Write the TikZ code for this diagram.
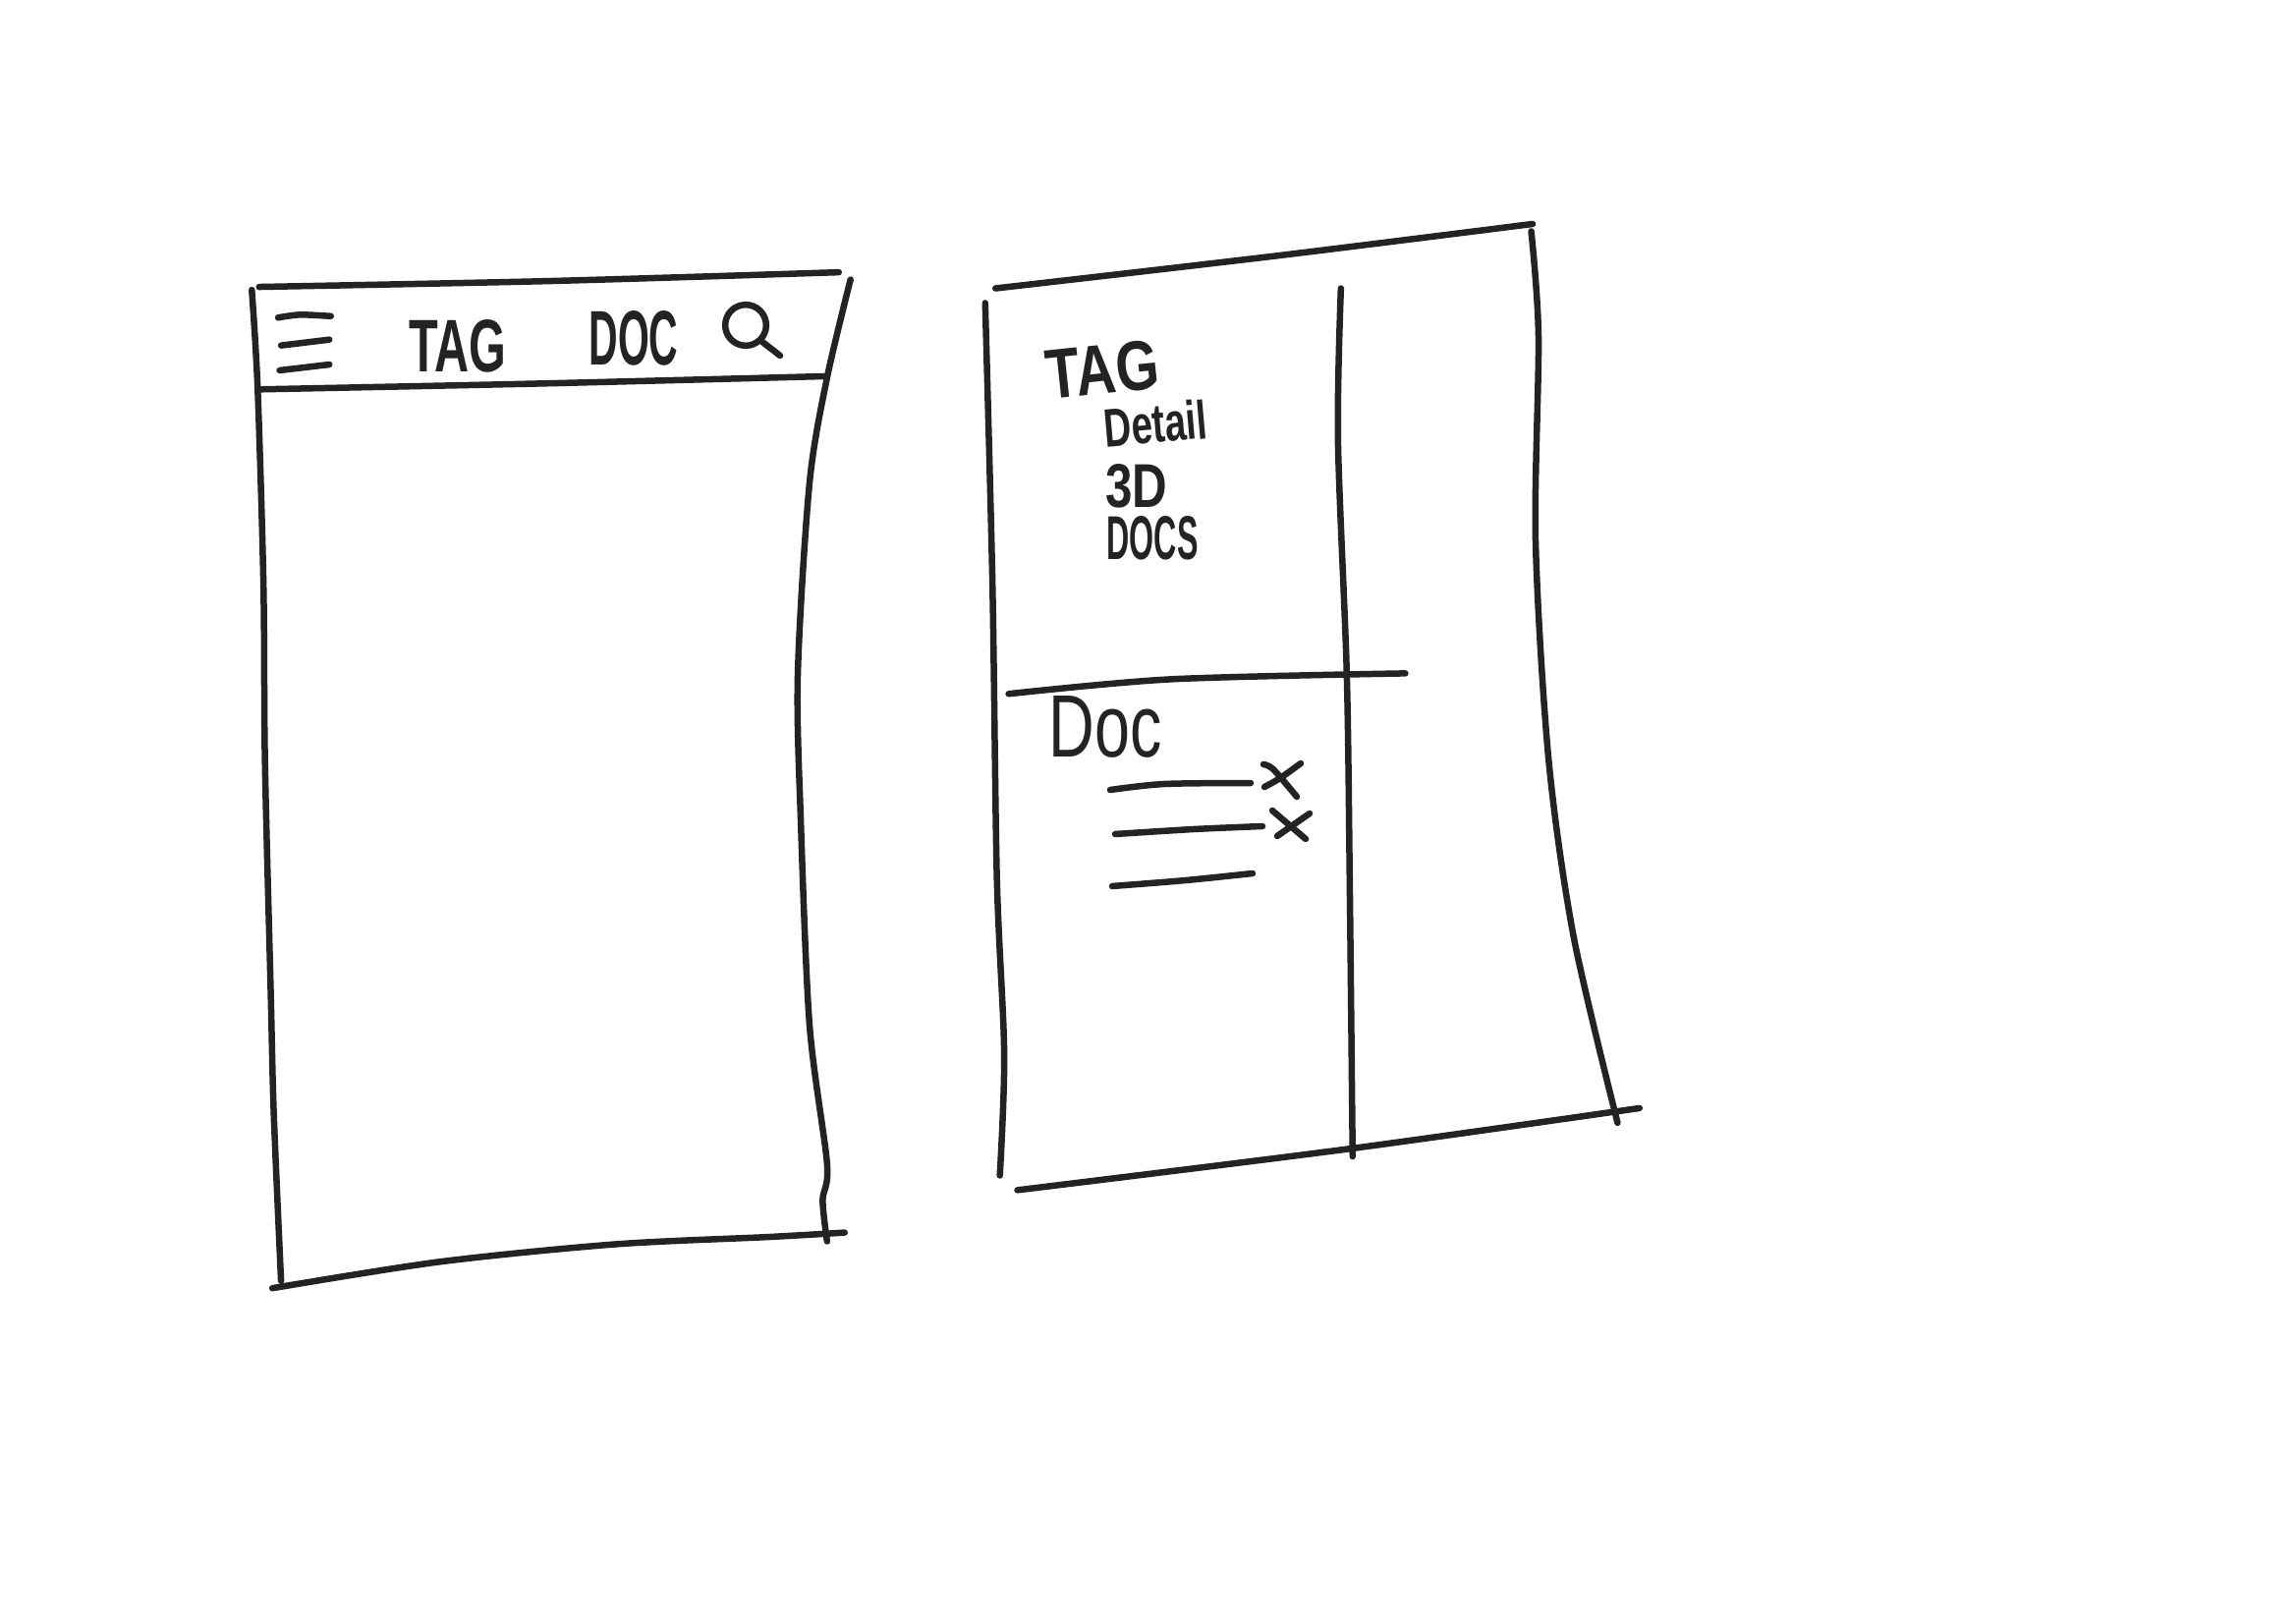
\documentclass[tikz,border=0pt]{standalone}
\usepackage{fontspec}
\usepackage{graphicx}
\setmainfont{Liberation Sans}
\definecolor{inkc}{HTML}{232325}
% #1 width in px, #2 height in px, #3 text
\newcommand{\handtext}[3]{\resizebox{\dimexpr #1pt*3/10\relax}{\dimexpr #2pt*3/10\relax}{\fontsize{20}{20}\selectfont #3}}
\tikzset{
  ink/.style={draw=inkc,line width=1.95pt,line cap=round,line join=round},
  hand/.style={inner sep=0pt,outer sep=0pt,text=inkc},
}
\begin{document}
\begin{tikzpicture}[x=0.3pt,y=-0.3pt]
\useasboundingbox (0,0) rectangle (2337,1653);
\fill[white] (0,0) rectangle (2337,1653);
\begin{scope}[scale=1.49]
% left frame
\draw[ink] plot[smooth,tension=0.5] coordinates {(177,196) (375,192) (573,186)};
\draw[ink] plot[smooth,tension=0.5] coordinates {(172,198) (176,265) (180,400) (181,520) (185,680) (187,760) (192,875)};
\draw[ink] plot[smooth,tension=0.5] coordinates {(581,191) (565,258) (553,330) (545,460) (547,560) (553,700) (565,795) (562,820) (565,848)};
\draw[ink] plot[smooth,tension=0.5] coordinates {(177,266) (370,262) (565,257)};
\draw[ink] plot[smooth,tension=0.5] coordinates {(186,880) (300,862) (420,850) (525,845) (577,842)};
% right frame
\draw[ink] plot[smooth,tension=0.5] coordinates {(680,197) (870,175) (1047,153)};
\draw[ink] plot[smooth,tension=0.5] coordinates {(673,207) (678,400) (681,600) (686,720) (683,803)};
\draw[ink] plot[smooth,tension=0.5] coordinates {(916,197) (914,300) (920,460) (922,600) (924,790)};
\draw[ink] plot[smooth,tension=0.5] coordinates {(1046,158) (1051,230) (1049,370) (1058,520) (1075,640) (1105,767)};
\draw[ink] plot[smooth,tension=0.5] coordinates {(695,813) (920,785) (1120,757)};
\draw[ink] plot[smooth,tension=0.5] coordinates {(689,474) (800,464) (960,460)};
% menu icon
\draw[ink] plot[smooth,tension=0.5] coordinates {(190,217) (205,215) (226,216)};
\draw[ink] (192,236) -- (225,232);
\draw[ink] (191,253) -- (225,249);
\end{scope}
% top bar texts
\node[hand] (tagbar) at (466,352) {\handtext{99}{53}{\textbf{TAG}}};
\node[hand] (docbar) at (645,344) {\handtext{91}{55}{\textbf{DOC}}};
% magnifier
\node[ink,circle,minimum size=12.5pt,inner sep=0pt] (lens) at (759,331) {};
\draw[ink] (lens.south east) -- (794,362);
% right panel texts
\node[hand,rotate=6] (tagpanel) at (1122,376) {\handtext{115}{50}{\textbf{TAG}}};
\node[hand,rotate=5] (detail) at (1176,431) {\handtext{105}{40}{\textbf{Detail}}};
\node[hand] (threed) at (1157,495) {\handtext{63}{44}{\textbf{3D}}};
\node[hand] (docs) at (1173,548) {\handtext{93}{44}{\textbf{DOCS}}};
\node[hand] (docpanel) at (1125,740) {\handtext{115}{62}{Doc}};
% list lines
\draw[ink] plot[smooth,tension=0.5] coordinates {(1130,804) (1185,798) (1273,797)};
\draw[ink] plot[smooth,tension=0.5] coordinates {(1135,849) (1215,844) (1285,841)};
\draw[ink] plot[smooth,tension=0.5] coordinates {(1132,902) (1207,896) (1275,889)};
% crosses
\draw[ink] plot[smooth,tension=0.5] coordinates {(1286,778) (1296,783) (1320,811)};
\draw[ink] plot[smooth,tension=0.5] coordinates {(1324,777) (1303,792) (1287,801)};
\draw[ink] (1295,825) -- (1329,854);
\draw[ink] (1333,828) -- (1300,851);
\end{tikzpicture}
\end{document}
